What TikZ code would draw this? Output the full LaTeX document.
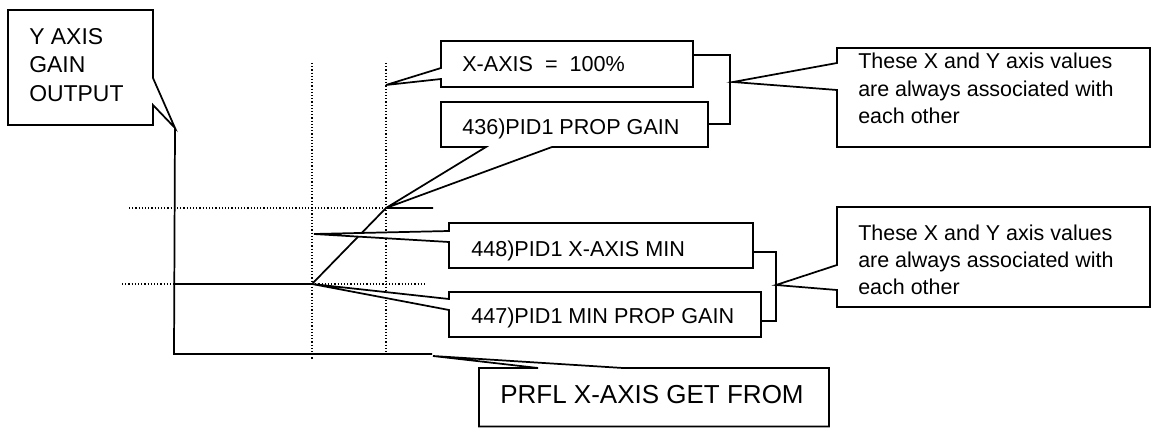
\documentclass[tikz,border=0pt]{standalone}
\usepackage{fontspec}
\setmainfont{Liberation Sans}
\begin{document}
\begin{tikzpicture}[x=0.75pt,y=-0.75pt,
  outline/.style={line width=1.3pt,line join=miter,fill=white},
  conn/.style={line width=1.3pt},
  dotline/.style={line width=0.9pt,dash pattern=on 0.9pt off 1.5pt},
  lbl/.style={anchor=base west,inner sep=0pt,font=\fontsize{16.2pt}{19pt}\selectfont},
  ylbl/.style={anchor=base west,inner sep=0pt,font=\fontsize{17.2pt}{21pt}\selectfont},
  nlbl/.style={anchor=base west,inner sep=0pt,font=\fontsize{16.1pt}{19pt}\selectfont},
  plbl/.style={anchor=base west,inner sep=0pt,font=\fontsize{19.5pt}{23pt}\selectfont}]
\useasboundingbox (0,0) rectangle (1152,428);

% key points
\coordinate (ytip) at (175,128);
\coordinate (corner) at (174,354);
\coordinate (axend) at (432,354);
\coordinate (lowstart) at (174,284);
\coordinate (minpt) at (312,284);
\coordinate (maxpt) at (386,208);
\coordinate (flatend) at (433,208);
\coordinate (xtip) at (386,85);
\coordinate (xmintip) at (314,234);
\coordinate (b1tip) at (733,82);
\coordinate (b2tip) at (776,285);
\coordinate (ptip) at (433,356);

% dotted guide lines
\coordinate (v1a) at (312,63); \coordinate (v1b) at (312,360);
\coordinate (v2a) at (386,63); \coordinate (v2b) at (386,353);
\coordinate (h1a) at (129,208);
\coordinate (h2a) at (122,284);
\coordinate (h2b) at (427,284);
\draw[dotline] (v1a) -- (v1b);
\draw[dotline] (v2a) -- (v2b);
\draw[dotline] (h1a) -- (maxpt);
\draw[dotline] (h2a) -- (lowstart);
\draw[dotline] (minpt) -- (h2b);

% axes and profile
\draw[conn] (ytip) -- (corner) -- (axend);
\draw[conn] (lowstart) -- (minpt) -- (maxpt) -- (flatend);

% Y AXIS callout
\draw[outline] (8,10) -- (153,10) -- (153,78) -- (ytip) -- (153,105) -- (153,125) -- (8,125) -- cycle;
\node[ylbl] (y1) at (29,45) {Y AXIS};
\node[ylbl] (y2) at (29,73) {GAIN};
\node[ylbl] (y3) at (29,102) {OUTPUT};

% X-AXIS = 100%
\draw[outline] (441,41) -- (693,41) -- (693,87) -- (441,87) -- (441,79) -- (xtip) -- (441,68) -- cycle;
\node[lbl] (xax) at (462,72) {X-AXIS~~=~~100\%};

% 436
\draw[outline] (441,102) -- (708,102) -- (708,147) -- (552,147) -- (maxpt) -- (486,147) -- (441,147) -- cycle;
\node[lbl] (pg) at (462,134) {436)PID1 PROP GAIN};

% bracket 1
\draw[conn] (693,55) -- (730,55) -- (730,124) -- (708,124);

% note 1
\draw[outline] (837,48) -- (1150,48) -- (1150,147) -- (837,147) -- (837,90) -- (b1tip) -- (837,63) -- cycle;
\node[nlbl] (n1a) at (858,69) {These X and Y axis values};
\node[nlbl] (n1b) at (858,96) {are always associated with};
\node[nlbl] (n1c) at (858,123) {each other};

% 448
\draw[outline] (449,223) -- (753,223) -- (753,268) -- (449,268) -- (449,242) -- (xmintip) -- (449,231) -- cycle;
\node[lbl] (xm) at (471,256) {448)PID1 X-AXIS MIN};

% 447
\draw[outline] (449,292) -- (761,292) -- (761,337) -- (449,337) -- (449,310) -- (minpt) -- (449,299) -- cycle;
\node[lbl] (mg) at (471,323) {447)PID1 MIN PROP GAIN};

% bracket 2
\draw[conn] (753,252) -- (776,252) -- (776,321) -- (761,321);

% note 2
\draw[outline] (837,207) -- (1150,207) -- (1150,307) -- (837,307) -- (837,290) -- (b2tip) -- (837,265) -- cycle;
\node[nlbl] (n2a) at (858,240) {These X and Y axis values};
\node[nlbl] (n2b) at (858,267) {are always associated with};
\node[nlbl] (n2c) at (858,294) {each other};

% PRFL
\draw[outline] (479,368) -- (538,368) -- (ptip) -- (623,368) -- (829,368) -- (829,426.5) -- (479,426.5) -- cycle;
\node[plbl] (pr) at (500,403) {PRFL X-AXIS GET FROM};
\end{tikzpicture}
\end{document}
